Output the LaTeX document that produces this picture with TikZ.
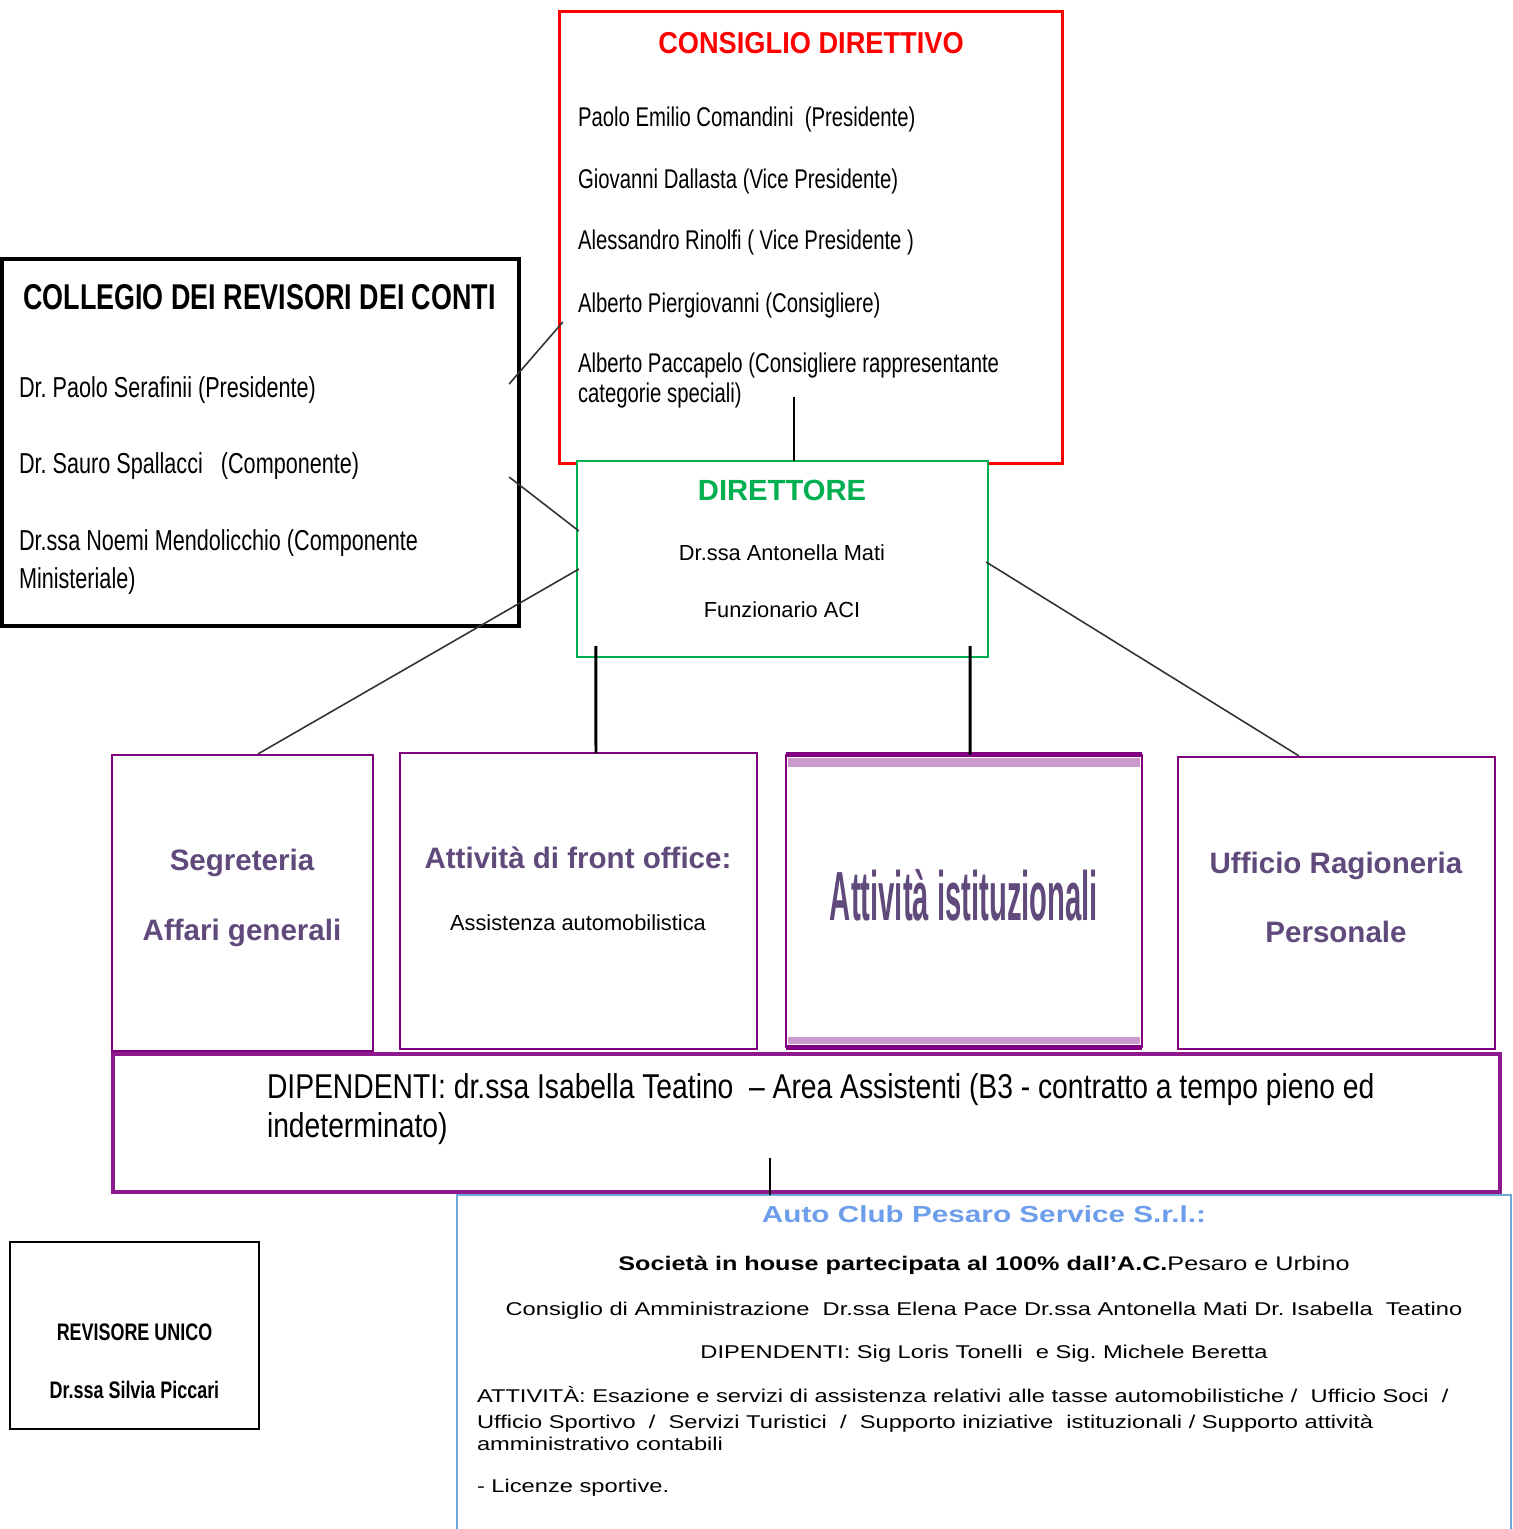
\documentclass[tikz,border=0pt]{standalone}
\usepackage{fontspec}
\setmainfont{Liberation Sans}
\newfontfamily\condfont[FakeStretch=0.75]{Liberation Sans}
\newfontfamily\dipfont[FakeStretch=0.82]{Liberation Sans}
\newfontfamily\semifont[FakeStretch=0.9]{Liberation Sans}
\newfontfamily\widefont[FakeStretch=1.28]{Liberation Sans}
\newfontfamily\slimfont[FakeStretch=0.42]{Liberation Sans}
\usetikzlibrary{calc}

\definecolor{cdred}{HTML}{FF0000}
\definecolor{dirgreen}{HTML}{00B050}
\definecolor{ufpurple}{HTML}{800080}
\definecolor{uflight}{HTML}{CC99CC}
\definecolor{uftext}{HTML}{604A7B}
\definecolor{acblue}{HTML}{6FA8DC}
\definecolor{actitle}{HTML}{6D9EEB}

\newcommand{\fsz}[1]{\fontsize{#1}{#1}\selectfont}
\frenchspacing

\begin{document}
\begin{tikzpicture}[x=0.01cm,y=-0.01cm]
\tikzstyle{box} = [draw, rectangle, inner sep=0, outer sep=0, fill=white]
\tikzstyle{txt} = [inner sep=0, outer sep=0]
\tikzstyle{ufbox} = [box, draw=ufpurple, line width=0.7pt]
\tikzstyle{uftxt} = [txt, text=uftext, font=\fsz{8.4}\bfseries]
\tikzstyle{link} = [line width=0.45pt, black!80]
\tikzstyle{bar} = [line width=0.85pt, black]

\useasboundingbox (0,0) rectangle (1513,1529);

% Consiglio direttivo
\node[box, draw=cdred, line width=0.85pt, minimum width=5.02cm, minimum height=4.51cm] (cons) at (811,237.5) {};
\node[txt, text=cdred, font=\semifont\fsz{8.6}\bfseries, anchor=base] (cons-t) at (811,53) {CONSIGLIO DIRETTIVO};
\foreach \riga/\yy [count=\i] in {
  {Paolo Emilio Comandini\ \ (Presidente)}/126,
  {Giovanni Dallasta (Vice Presidente)}/188,
  {Alessandro Rinolfi ( Vice Presidente )}/249,
  {Alberto Piergiovanni (Consigliere)}/312,
  {Alberto Paccapelo (Consigliere rappresentante}/372,
  {categorie speciali)}/402} {
  \node[txt, font=\condfont\fsz{7.7}, anchor=base west] (cons-\i) at (578,\yy) {\riga};
}

% Collegio dei revisori
\node[box, line width=1.1pt, minimum width=5.17cm, minimum height=3.67cm] (coll) at (260.5,442.5) {};
\node[txt, font=\condfont\fsz{10.2}\bfseries, anchor=base] (coll-t) at (259.5,309) {COLLEGIO DEI REVISORI DEI CONTI};
\foreach \riga/\yy [count=\i] in {
  {Dr. Paolo Serafinii (Presidente)}/397,
  {Dr. Sauro Spallacci\ \ \ (Componente)}/473,
  {Dr.ssa Noemi Mendolicchio (Componente}/550,
  {Ministeriale)}/588} {
  \node[txt, font=\condfont\fsz{8.2}, anchor=base west] (coll-\i) at (19,\yy) {\riga};
}

% Direttore
\node[box, draw=dirgreen, line width=0.7pt, minimum width=4.11cm, minimum height=1.96cm] (dir) at (782.5,559) {};
\node[txt, text=dirgreen, font=\fsz{8.3}\bfseries, anchor=base] (dir-t) at (782,500) {DIRETTORE};
\node[txt, font=\fsz{6.2}, anchor=base] (dir-1) at (782,560) {Dr.ssa Antonella Mati};
\node[txt, font=\fsz{6.2}, anchor=base] (dir-2) at (782,617) {Funzionario ACI};

% Uffici
\node[ufbox, minimum width=2.61cm, minimum height=2.96cm] (segr) at (242.5,903) {};
\node[uftxt, anchor=base] (segr-1) at (242,870) {Segreteria};
\node[uftxt, anchor=base] (segr-2) at (242,940) {Affari generali};

\node[ufbox, minimum width=3.57cm, minimum height=2.96cm] (front) at (578.5,901) {};
\node[uftxt, anchor=base] (front-1) at (578,868) {Attività di front office:};
\node[txt, font=\fsz{6.2}, anchor=base] (front-2) at (578,930) {Assistenza automobilistica};

\node[ufbox, minimum width=3.56cm, minimum height=2.92cm] (ist) at (964,901) {};
\fill[uflight] ($(ist.north west)+(2,3)$) rectangle ($(ist.north east)+(-2,12)$);
\fill[uflight] ($(ist.south west)+(2,-3)$) rectangle ($(ist.south east)+(-2,-10)$);
\draw[ufpurple, line width=1.4pt] (ist.north west) -- (ist.north east);
\draw[ufpurple, line width=1.4pt] (ist.south west) -- (ist.south east);
\node[txt, text=uftext, font=\slimfont\fsz{19.8}\bfseries, anchor=base] (ist-1) at (964,920) {Attività istituzionali};

\node[ufbox, minimum width=3.17cm, minimum height=2.92cm] (ragi) at (1336.5,903) {};
\node[uftxt, anchor=base] (ragi-1) at (1336,873) {Ufficio Ragioneria};
\node[uftxt, anchor=base] (ragi-2) at (1336,942) {Personale};

% Auto Club
\node[box, draw=acblue, line width=0.6pt, minimum width=10.54cm, minimum height=3.45cm] (acps) at (984,1367.5) {};
\node[txt, text=actitle, font=\widefont\fsz{6.6}\bfseries, anchor=base] (acps-t) at (984,1222) {Auto Club Pesaro Service S.r.l.:};
\node[txt, font=\widefont\fsz{5.6}, anchor=base] (acps-1) at (984,1270) {\textbf{Società in house partecipata al 100\% dall’A.C.}Pesaro e Urbino};
\node[txt, font=\widefont\fsz{5.26}, anchor=base] (acps-2) at (984,1315) {Consiglio di Amministrazione\ \ Dr.ssa Elena Pace Dr.ssa Antonella Mati Dr. Isabella\ \ Teatino};
\node[txt, font=\widefont\fsz{5.26}, anchor=base] (acps-3) at (984,1358) {DIPENDENTI: Sig Loris Tonelli\ \ e Sig. Michele Beretta};
\node[txt, font=\widefont\fsz{5.26}, anchor=base west] (acps-4) at (477,1402) {ATTIVITÀ: Esazione e servizi di assistenza relativi alle tasse automobilistiche /\ \ Ufficio Soci\ \ /};
\node[txt, font=\widefont\fsz{5.26}, anchor=base west] (acps-5) at (477,1428) {Ufficio Sportivo\ \ /\ \ Servizi Turistici\ \ /\ \ Supporto iniziative\ \ istituzionali / Supporto attività};
\node[txt, font=\widefont\fsz{5.26}, anchor=base west] (acps-6) at (477,1450) {amministrativo contabili};
\node[txt, font=\widefont\fsz{5.26}, anchor=base west] (acps-7) at (477,1492) {- Licenze sportive.};

% Dipendenti
\node[box, draw=ufpurple!90!white, line width=1.1pt, minimum width=13.87cm, minimum height=1.38cm] (dipe) at (806.5,1123) {};
\node[txt, font=\dipfont\fsz{9.8}, anchor=base west] (dipe-1) at (267,1098) {DIPENDENTI: dr.ssa Isabella Teatino\ \ – Area Assistenti (B3 - contratto a tempo pieno ed};
\node[txt, font=\dipfont\fsz{9.8}, anchor=base west] (dipe-2) at (267,1137) {indeterminato)};

% Revisore unico
\node[box, line width=0.6pt, minimum width=2.49cm, minimum height=1.87cm] (revi) at (134.5,1335.5) {};
\node[txt, font=\condfont\fsz{6.8}\bfseries, anchor=base] (revi-1) at (134.5,1340) {REVISORE UNICO};
\node[txt, font=\condfont\fsz{6.8}\bfseries, anchor=base] (revi-2) at (134.5,1398) {Dr.ssa Silvia Piccari};

% --- Collegamenti ------------------------------------------------------
\draw[bar] ($(cons.south)+(-17,-66)$) -- ($(dir.north)+(11.5,0)$);
\draw[link] ($(coll.east)+(-10,-58.5)$) -- ($(cons.west)+(3,84.5)$);
\draw[link] ($(coll.east)+(-10,34.5)$) -- ($(dir.west)+(2,-28)$);
\draw[link] ($(dir.west)+(2,10)$) -- ($(segr.north)+(15.5,-1)$);
\draw[link] ($(dir.east)+(-2,3)$) -- ($(ragi.north)+(-37.5,-1)$);
\draw[bar] ($(dir.south west)+(19,-11)$) -- ($(front.north)+(17.5,0)$);
\draw[bar] ($(dir.south east)+(-18,-11)$) -- ($(ist.north)+(6,0)$);
\draw[link, black] ($(dipe.south)+(-36.5,-34)$) -- ($(acps.north)+(-214,0)$);

\end{tikzpicture}
\end{document}
